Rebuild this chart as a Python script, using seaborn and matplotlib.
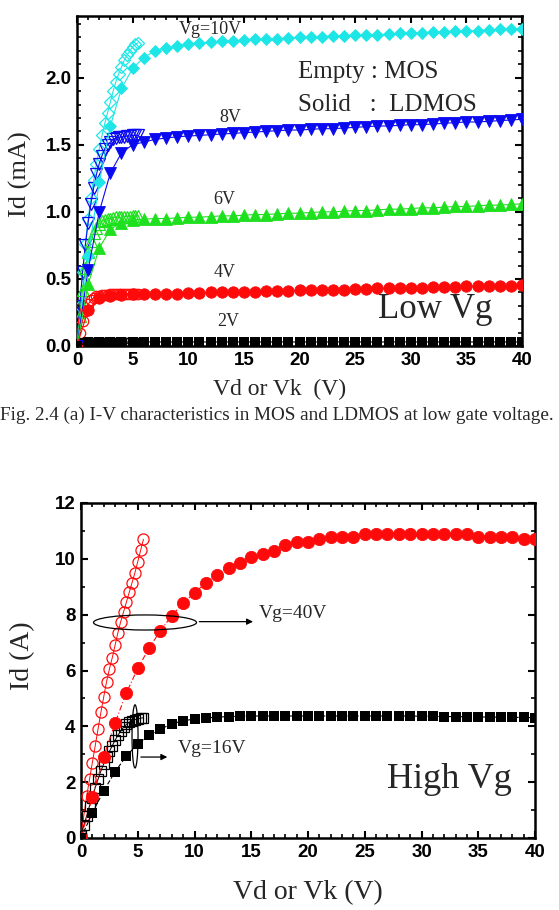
import numpy as np
import pandas as pd
import matplotlib
matplotlib.use("Agg")
import matplotlib.pyplot as plt
from matplotlib.patches import Ellipse
import seaborn as sns

# ---------------- data : top panel (low Vg, Id in mA) ----------------
vd_ld = list(range(0, 41))          # LDMOS drain voltage (V), 1 V steps
vd_mos = [0, 0.25, 0.5, 0.75, 1.0, 1.25, 1.5, 1.75, 2.0, 2.25, 2.5, 2.75,
          3.0, 3.25, 3.5, 3.75, 4.0, 4.25, 4.5, 4.75, 5.0, 5.25, 5.5]

ld_10 = [0, 0.67, 1.22, 1.64, 1.92, 2.07, 2.15, 2.20, 2.22, 2.24, 2.25, 2.26,
         2.265, 2.27, 2.275, 2.28, 2.285, 2.29, 2.29, 2.295, 2.30, 2.30, 2.305,
         2.31, 2.31, 2.315, 2.32, 2.32, 2.325, 2.33, 2.33, 2.335, 2.34, 2.34,
         2.345, 2.35, 2.35, 2.355, 2.36, 2.36, 2.365]
ld_8 = [0, 0.57, 1.00, 1.29, 1.44, 1.50, 1.52, 1.54, 1.55, 1.56, 1.565, 1.57,
        1.575, 1.58, 1.585, 1.59, 1.595, 1.60, 1.605, 1.61, 1.61, 1.615, 1.62,
        1.62, 1.625, 1.63, 1.635, 1.64, 1.64, 1.645, 1.65, 1.65, 1.655, 1.66,
        1.665, 1.67, 1.67, 1.675, 1.68, 1.685, 1.69]
ld_6 = [0, 0.46, 0.73, 0.87, 0.92, 0.94, 0.945, 0.95, 0.95, 0.955, 0.96, 0.96,
        0.965, 0.97, 0.97, 0.975, 0.98, 0.98, 0.985, 0.99, 0.99, 0.995, 1.00,
        1.00, 1.005, 1.01, 1.01, 1.015, 1.02, 1.02, 1.025, 1.03, 1.03, 1.035,
        1.04, 1.04, 1.045, 1.05, 1.05, 1.055, 1.06]
ld_4 = [0, 0.27, 0.36, 0.375, 0.38, 0.385, 0.385, 0.39, 0.39, 0.39, 0.395,
        0.395, 0.40, 0.40, 0.40, 0.405, 0.405, 0.41, 0.41, 0.41, 0.415, 0.415,
        0.42, 0.42, 0.42, 0.425, 0.425, 0.43, 0.43, 0.43, 0.435, 0.435, 0.44,
        0.44, 0.44, 0.445, 0.445, 0.45, 0.45, 0.45, 0.455]
ld_2 = [0.0] + [0.03] * 40

mos_10 = [0, 0.30, 0.55, 0.76, 0.95, 1.10, 1.24, 1.36, 1.47, 1.57, 1.66, 1.74,
          1.82, 1.90, 1.97, 2.03, 2.08, 2.13, 2.17, 2.20, 2.23, 2.25, 2.26]
mos_8 = [0, 0.30, 0.55, 0.75, 0.92, 1.06, 1.18, 1.28, 1.36, 1.42, 1.47, 1.50,
         1.52, 1.54, 1.55, 1.555, 1.56, 1.56, 1.565, 1.565, 1.57, 1.57, 1.57]
mos_6 = [0, 0.22, 0.42, 0.58, 0.70, 0.78, 0.84, 0.88, 0.91, 0.93, 0.94, 0.95,
         0.95, 0.955, 0.96, 0.96, 0.96, 0.965, 0.965, 0.965, 0.97, 0.97, 0.97]
mos_4 = [0, 0.10, 0.19, 0.26, 0.31, 0.34, 0.36, 0.37, 0.375, 0.38, 0.38, 0.38,
         0.385, 0.385, 0.385, 0.39, 0.39, 0.39, 0.39, 0.39, 0.39, 0.39, 0.39]
mos_2 = [0, 0.01, 0.015, 0.02, 0.02, 0.02, 0.02, 0.02, 0.02, 0.02, 0.02, 0.02,
         0.02, 0.02, 0.02, 0.02, 0.02, 0.02, 0.02, 0.02, 0.02, 0.02, 0.02]

# ---------------- data : bottom panel (high Vg, Id in A) ----------------
ld_40 = [0, 1.47, 2.9, 4.12, 5.2, 6.08, 6.8, 7.43, 7.96, 8.42, 8.78, 9.14,
         9.43, 9.68, 9.86, 10.07, 10.17, 10.29, 10.5, 10.6, 10.6, 10.7, 10.8,
         10.8, 10.8, 10.9, 10.9, 10.9, 10.9, 10.9, 10.9, 10.9, 10.9, 10.9,
         10.9, 10.8, 10.8, 10.8, 10.8, 10.7, 10.7]
ld_16 = [0, 0.9, 1.69, 2.37, 2.94, 3.37, 3.69, 3.9, 4.09, 4.2, 4.26, 4.3,
         4.33, 4.35, 4.36, 4.37, 4.37, 4.37, 4.37, 4.37, 4.37, 4.37, 4.37,
         4.37, 4.37, 4.37, 4.37, 4.37, 4.37, 4.37, 4.36, 4.36, 4.35, 4.35,
         4.34, 4.34, 4.33, 4.33, 4.32, 4.32, 4.31]
mos_40 = [0.1, 0.8, 1.5, 2.1, 2.7, 3.3, 3.9, 4.5, 5.05, 5.6, 6.05, 6.45, 6.9,
          7.35, 7.75, 8.1, 8.45, 8.8, 9.15, 9.5, 9.9, 10.3, 10.7]
mos_16 = [0.1, 0.45, 0.8, 1.15, 1.45, 1.8, 2.1, 2.4, 2.65, 2.9, 3.1, 3.3, 3.5,
          3.68, 3.83, 3.97, 4.07, 4.15, 4.2, 4.24, 4.27, 4.29, 4.31]

low_labels = ["Vg=10V", "8V", "6V", "4V", "2V"]
x_ticks = [0, 5, 10, 15, 20, 25, 30, 35, 40]

# ---------------- styling ----------------
sns.set_theme(style="white")
plt.rcParams["font.family"] = ["Liberation Sans", "DejaVu Sans"]
SERIF = ["Liberation Serif", "DejaVu Serif"]

CYAN = "#1FE6E6"
BLUE = "#0A0AF0"
GREEN = "#1EE01E"
RED = "#FF0A0A"
BLACK = "#000000"

fig = plt.figure(figsize=(5.59, 9.10), dpi=100)
fig.patch.set_facecolor("white")
W, H = 559.0, 910.0
ax1 = fig.add_axes([77 / W, 1 - 346 / H, (522 - 77) / W, (346 - 16) / H])
ax2 = fig.add_axes([81 / W, 1 - 838 / H, (535 - 81) / W, (838 - 503) / H])


def series(ax, x, y, color, marker, ms, filled, lw=0.8, ls="-", z=3, mew=None):
    df = pd.DataFrame({"x": x, "y": y})
    if mew is None:
        mew = 0.6 if filled else 0.9
    sns.lineplot(data=df, x="x", y="y", ax=ax, color=color, lw=lw, ls=ls,
                 marker=marker, markersize=ms, sort=False, estimator=None,
                 markerfacecolor=(color if filled else "none"),
                 markeredgecolor=color, markeredgewidth=mew,
                 zorder=z)


# top panel: MOS (open) first, LDMOS (solid) on top
series(ax1, vd_mos, mos_10, CYAN, "D", 6.4, False)
series(ax1, vd_mos, mos_8, BLUE, "v", 8.5, False)
series(ax1, vd_mos, mos_6, GREEN, "^", 8.5, False)
series(ax1, vd_mos, mos_4, RED, "o", 7.5, False)
series(ax1, vd_mos, mos_2, BLACK, "s", 6.5, False)
series(ax1, vd_ld, ld_10, CYAN, "D", 6.4, True, z=4)
series(ax1, vd_ld, ld_8, BLUE, "v", 9, True, z=4)
series(ax1, vd_ld, ld_6, GREEN, "^", 9, True, z=4)
series(ax1, vd_ld, ld_4, RED, "o", 8.2, True, z=4)
series(ax1, vd_ld, ld_2, BLACK, "s", 6.9, True, z=4, mew=0)

# bottom panel
series(ax2, vd_mos, mos_40, RED, "o", 8, False, lw=0.7)
series(ax2, vd_mos, mos_16, BLACK, "s", 7.3, False, lw=0.7)
series(ax2, vd_ld, ld_40, RED, "o", 8.8, True, lw=0.8, ls=(0, (5, 2, 1, 2)), z=4)
series(ax2, vd_ld, ld_16, BLACK, "s", 7.2, True, lw=0.8, ls=(0, (4, 2)), z=4,
       mew=0)

for ax, ymax, ymaj, ymin in [(ax1, 2.46, 0.5, 0.1), (ax2, 12, 2, 1)]:
    ax.set_xlim(0, 40)
    ax.set_ylim(0, ymax)
    ax.set_xticks(x_ticks)
    ax.set_xticks(np.arange(0, 41, 1), minor=True)
    ax.set_yticks(np.arange(0, ymax + 1e-9, ymaj))
    ax.set_yticks(np.arange(0, ymax + 1e-9, ymin), minor=True)
    ax.tick_params(which="both", direction="in", top=True, right=True,
                   bottom=True, left=True, colors="black")
    ax.tick_params(which="major", length=5, width=1.5, labelsize=13.5, pad=4)
    ax.tick_params(which="minor", length=3, width=1.2)
    for lab in ax.get_xticklabels() + ax.get_yticklabels():
        lab.set_fontweight("bold")
    for sp in ax.spines.values():
        sp.set_linewidth(1.8)
        sp.set_color("black")
    ax.set_facecolor("none")

ax1.set_yticklabels(["0.0", "0.5", "1.0", "1.5", "2.0"], fontweight="bold")
ax2.set_yticklabels(["0", "2", "4", "6", "8", "10", "12"], fontweight="bold")

ax1.set_xlabel("Vd or Vk  (V)", fontsize=17, family=SERIF)
ax1.set_ylabel("Id (mA)", fontsize=19, family=SERIF)
ax1.xaxis.set_label_coords(0.456, -0.10)
ax1.yaxis.set_label_coords(-0.10, 0.52)
ax2.set_xlabel("Vd or Vk (V)", fontsize=20, family=SERIF)
ax2.set_ylabel("Id (A)", fontsize=20, family=SERIF)
ax2.xaxis.set_label_coords(0.50, -0.125)
ax2.yaxis.set_label_coords(-0.10, 0.545)

# annotations top
pos = [(12.0, 2.36), (13.8, 1.70), (13.2, 1.09), (13.3, 0.55), (13.6, 0.18)]
for txt, (x, y) in zip(low_labels, pos):
    ax1.text(x, y, txt, fontsize=13, family=SERIF, ha="center", va="center",
             zorder=6)
ax1.text(19.9, 2.04, "Empty : MOS", fontsize=18, family=SERIF, va="center")
ax1.text(19.9, 1.80, "Solid   :  LDMOS", fontsize=18, family=SERIF, va="center")
ax1.text(27.1, 0.27, "Low Vg", fontsize=25, family=SERIF, va="center")

# annotations bottom
ax2.text(27.0, 2.08, "High Vg", fontsize=26, family=SERIF, va="center")
ax2.text(15.7, 8.03, "Vg=40V", fontsize=14, family=SERIF, va="center")
ax2.text(8.5, 3.19, "Vg=16V", fontsize=14, family=SERIF, va="center")
ax2.add_patch(Ellipse((5.64, 7.72), 9.07, 0.54, fill=False, lw=0.9,
                      ec="black", zorder=6))
ax2.annotate("", xy=(15.4, 7.75), xytext=(10.18, 7.75),
             arrowprops=dict(arrowstyle="-|>", lw=0.9, color="black",
                             mutation_scale=9), zorder=6)
ax2.add_patch(Ellipse((4.76, 3.64), 0.53, 2.26, fill=False, lw=0.9,
                      ec="black", zorder=6))
ax2.annotate("", xy=(7.85, 2.9), xytext=(5.03, 2.9),
             arrowprops=dict(arrowstyle="-|>", lw=0.9, color="black",
                             mutation_scale=9), zorder=6)

fig.text(0.495, 1 - 415 / H,
         "Fig. 2.4 (a) I-V characteristics in MOS and LDMOS at low gate voltage.",
         fontsize=13.8, family=SERIF, ha="center", va="center")

fig.savefig("out.png", dpi=100, facecolor="white")
